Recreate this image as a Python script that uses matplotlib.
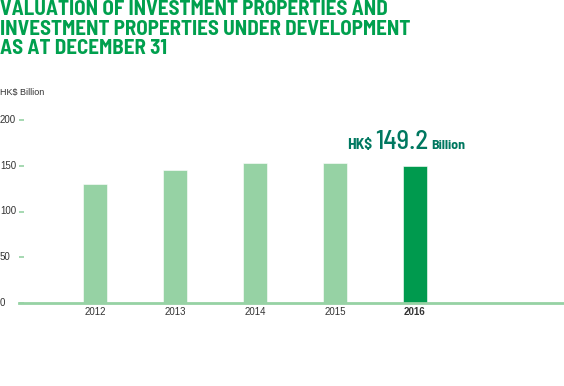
import matplotlib
matplotlib.use("Agg")
import matplotlib.pyplot as plt
from matplotlib.transforms import blended_transform_factory
from matplotlib import font_manager as fm

years = ["2012", "2013", "2014", "2015", "2016"]
values = [130.1, 145.5, 153.2, 153.4, 149.2]
yticks = [0, 50, 100, 150, 200]
title_lines = ["VALUATION OF INVESTMENT PROPERTIES AND",
               "INVESTMENT PROPERTIES UNDER DEVELOPMENT",
               "AS AT DECEMBER 31"]
unit = "HK$ Billion"
ann_parts = ["HK$", "149.2", "Billion"]

names = {f.name for f in fm.fontManager.ttflist}
cond = "Barlow Semi Condensed" if "Barlow Semi Condensed" in names else "DejaVu Sans"
cfam = [cond, "DejaVu Sans"]

W, H = 564, 386
fig = plt.figure(figsize=(W / 100, H / 100), dpi=100)
plt.rcParams["font.family"] = ["Liberation Sans", "DejaVu Sans"]

light = "#96d2a4"
dark = "#009a4e"
title_col = "#00a04e"
ann_col = "#007860"

left_px, right_px = 19, 564
bottom_px = 303
ppu = 0.915
ymax = 215
top_px = bottom_px - ymax * ppu
ax = fig.add_axes([left_px / W, 1 - bottom_px / H, (right_px - left_px) / W, (bottom_px - top_px) / H])

x = list(range(len(years)))
colors = [light] * (len(years) - 1) + [dark]
ax.bar(x, values, width=0.3, color=colors, edgecolor="white", linewidth=0.4, zorder=2)
ax.set_xlim((left_px - 95) / 80, (right_px - 95) / 80)
ax.set_ylim(0, ymax)

for s in ["top", "right", "left"]:
    ax.spines[s].set_visible(False)
ax.spines["bottom"].set_color(light)
ax.spines["bottom"].set_linewidth(2)
ax.spines["bottom"].set_zorder(3)

ax.set_yticks(yticks)
ax.tick_params(axis="y", direction="in", length=3.5, width=1.2, color=light, labelleft=False)
tr = blended_transform_factory(fig.transFigure, ax.transData)
for v in yticks:
    ax.text(0.0, v, str(v), transform=tr, ha="left", va="center", fontsize=7, color="#333333")

ax.set_xticks(x)
ax.set_xticklabels(years, fontsize=7, color="#333333")
ax.tick_params(axis="x", length=0, pad=3)
ax.get_xticklabels()[-1].set_fontweight("bold")

fig.text(0.0, 1 - 93 / H, unit, ha="left", va="center", fontsize=6.5, color="#333333")

fig.canvas.draw()
r = fig.canvas.get_renderer()


def fit_text(xpx, ypx_base, s, target_w, fs0, **kw):
    t = fig.text(xpx / W, 1 - ypx_base / H, s, ha="left", va="baseline", fontsize=fs0, **kw)
    w = t.get_window_extent(r).width
    t.set_fontsize(fs0 * target_w / w)
    return t


baselines = [15, 35, 54]
t = fig.text(0, 0, title_lines[1], fontsize=14, fontweight="bold", family=cfam)
scale = 408 / t.get_window_extent(r).width
fs_title = 14 * scale
t.remove()
for line, b in zip(title_lines, baselines):
    fig.text(0.0, 1 - b / H, line, ha="left", va="baseline", fontsize=fs_title,
             fontweight="bold", family=cfam, color=title_col)

spans = [(347, 25), (375, 53), (431, 34)]
weights = ["bold", "medium", "bold"]
for s, (xp, w), wt in zip(ann_parts, spans, weights):
    fit_text(xp, 149, s, w, 10, fontweight=wt, family=cfam, color=ann_col)

fig.savefig("out.png", dpi=100)
